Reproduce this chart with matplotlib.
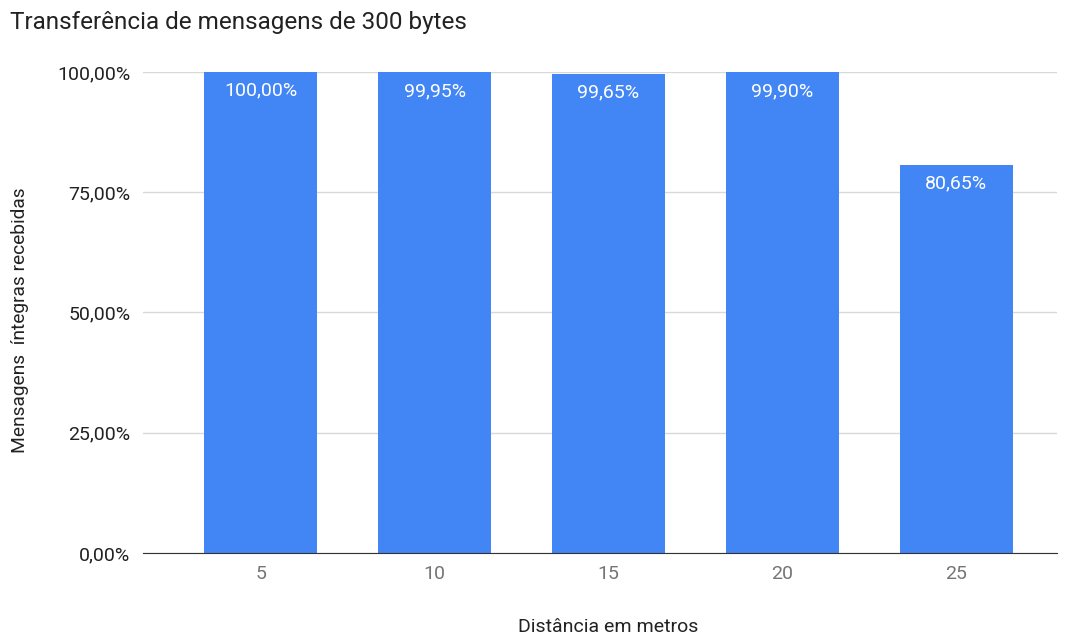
import numpy as np
import matplotlib.pyplot as plt
from matplotlib.ticker import FuncFormatter

# Dados
distancias = ["5", "10", "15", "20", "25"]
recebidas = [100.00, 99.95, 99.65, 99.90, 80.65]
yticks = [0, 25, 50, 75, 100]

plt.rcParams['font.family'] = ['Roboto', 'DejaVu Sans']


def pct(v):
    return f"{v:.2f}%".replace(".", ",")


def main():
    fig = plt.figure(figsize=(10.68, 6.37), dpi=100)
    ax = fig.add_axes([0.1339, 0.1319, 0.8558, 0.7551])

    x = np.arange(len(distancias))
    bars = ax.bar(x, recebidas, width=0.65, color="#4285F4", zorder=3)

    # Rótulos de valor dentro das barras
    for b, v in zip(bars, recebidas):
        ax.annotate(pct(v), (b.get_x() + b.get_width() / 2, v),
                    xytext=(0, -13.5), textcoords="offset points",
                    ha="center", va="center", color="white", fontsize=14)

    ax.set_xlim(-0.678, 4.58)
    ax.set_ylim(0, 100)
    ax.set_xticks(x)
    ax.set_xticklabels(distancias)
    ax.set_yticks(yticks)
    ax.yaxis.set_major_formatter(FuncFormatter(lambda v, _: pct(v)))

    ax.grid(axis="y", color="#d9d9d9", linewidth=1, zorder=0)
    for s in ["top", "right", "left"]:
        ax.spines[s].set_visible(False)
    ax.spines["bottom"].set_color("#333333")
    ax.spines["bottom"].set_zorder(4)

    ax.tick_params(axis="both", length=0)
    ax.tick_params(axis="y", labelsize=14, colors="#222222", pad=9)
    ax.tick_params(axis="x", labelsize=14, colors="#757575", pad=9)

    fig.text(0.0094, 0.965, "Transferência de mensagens de 300 bytes",
             fontsize=17.5, color="#222222", ha="left", va="center")
    fig.text(0.019, 0.498, "Mensagens  íntegras recebidas", rotation=90,
             fontsize=13.8, color="#222222", ha="center", va="center")
    fig.text(0.569, 0.016, "Distância em metros",
             fontsize=14, color="#222222", ha="center", va="center")

    fig.savefig("out.png", dpi=100)


if __name__ == "__main__":
    main()
